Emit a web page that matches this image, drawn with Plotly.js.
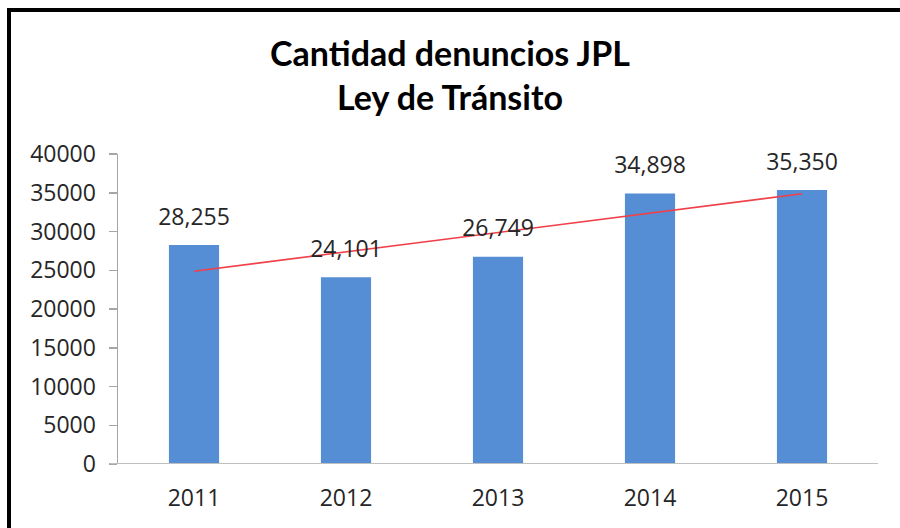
<!DOCTYPE html>
<html>
<head>
<meta charset="utf-8">
<script src="https://cdn.plot.ly/plotly-3.0.1.min.js"></script>
<style>
  html, body { margin: 0; padding: 0; background: #fff; overflow: hidden; }
  #chart { width: 900px; height: 528px; position: absolute; left: 0; top: 0; }
  #frame { position: absolute; left: 7px; top: 8px; width: 1000px; height: 1000px;
           border-left: 4px solid #000; border-top: 4px solid #000; pointer-events: none; }
</style>
</head>
<body>
<div id="chart"></div>
<div id="frame"></div>
<script>
const years = ['2011', '2012', '2013', '2014', '2015'];
const denuncios = [28255, 24101, 26749, 34898, 35350];
const trendYears = ['2011', '2015'];
const trendValues = [24873, 34868];
const yTicks = [0, 5000, 10000, 15000, 20000, 25000, 30000, 35000, 40000];

function labelFont() {
  return { family: 'Open Sans, DejaVu Sans, sans-serif', size: 23, color: '#262626' };
}

const bars = {
  type: 'bar', x: years, y: denuncios, width: 0.33,
  marker: { color: '#558ED5', line: { width: 0 } },
  hoverinfo: 'skip', showlegend: false
};
const trend = {
  type: 'scatter', mode: 'lines', x: trendYears, y: trendValues,
  line: { color: '#F0404A', width: 1.6 }, hoverinfo: 'skip', showlegend: false
};
const labels = {
  type: 'scatter', mode: 'markers+text', x: years, y: denuncios,
  text: denuncios.map(v => v.toLocaleString('en-US')),
  textposition: 'top center', textfont: labelFont(),
  marker: { size: 22, opacity: 0, color: '#fff' },
  cliponaxis: false, hoverinfo: 'skip', showlegend: false
};

const layout = {
  width: 900, height: 528,
  margin: { l: 118, r: 22, t: 154, b: 64 },
  paper_bgcolor: '#fff', plot_bgcolor: '#fff',
  title: {
    text: '<b>Cantidad denuncios JPL</b><br><b>Ley de Tránsito</b>',
    font: { family: 'Lato, Open Sans, sans-serif', size: 34, color: '#000' },
    x: 0.5, xanchor: 'center', y: 0.875, yanchor: 'top'
  },
  xaxis: {
    type: 'category', range: [-0.5, 4.5], showgrid: false, zeroline: false,
    showline: false, ticks: '', tickfont: labelFont(), ticklabelstandoff: 18,
    fixedrange: true
  },
  yaxis: {
    range: [0, 40000], tickvals: yTicks, ticktext: yTicks.map(String),
    showgrid: false, zeroline: false, showline: true, linecolor: '#A6A6A6', linewidth: 1.5,
    ticks: 'outside', ticklen: 8, tickcolor: '#A6A6A6', tickwidth: 1.5,
    tickfont: labelFont(), ticklabelstandoff: 8, fixedrange: true
  },
  shapes: [{
    type: 'line', xref: 'paper', yref: 'y', x0: -0.0105, x1: 1, y0: 0, y1: 0,
    line: { color: '#BFBFBF', width: 2 }
  }]
};

Plotly.newPlot('chart', [bars, trend, labels], layout, { displayModeBar: false, staticPlot: true });
</script>
</body>
</html>
